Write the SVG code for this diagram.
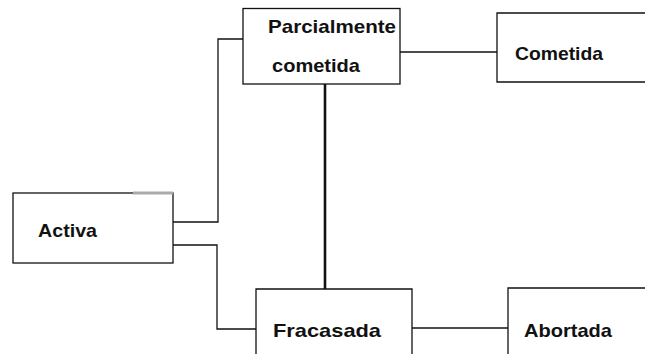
<svg xmlns="http://www.w3.org/2000/svg" width="645" height="354" viewBox="0 0 645 354">
<style>
.box{fill:none;stroke:#111;stroke-width:1.3}
.ln{fill:none;stroke:#111;stroke-width:1.3}
.thick{fill:none;stroke:#111;stroke-width:2.6}
.t{font-family:"Liberation Sans",Arial,sans-serif;font-weight:bold;font-size:19px;fill:#111}
</style>
<rect width="645" height="354" fill="#fff"/>
<g id="connectors">
<polyline class="ln" points="243,39 218,39 218,222 173,222"/>
<polyline class="ln" points="173,245 217,245 217,329 256,329"/>
<line class="ln" x1="400" y1="52" x2="497" y2="52"/>
<line class="ln" x1="412" y1="328" x2="508" y2="328"/>
<line class="thick" x1="325" y1="84" x2="325" y2="289"/>
</g>
<g id="parcialmente">
<rect class="box" x="243" y="8.5" width="157" height="75.5"/>
<text class="t" x="268" y="33" textLength="128" lengthAdjust="spacingAndGlyphs">Parcialmente</text>
<text class="t" x="272" y="72" textLength="88" lengthAdjust="spacingAndGlyphs">cometida</text>
</g>
<g id="cometida">
<path class="box" d="M646,13 H497 V82 H646"/>
<text class="t" x="515" y="60" textLength="88" lengthAdjust="spacingAndGlyphs">Cometida</text>
</g>
<g id="activa">
<rect class="box" x="13" y="193" width="160" height="70"/>
<line x1="133" y1="193" x2="173" y2="193" stroke="#aaa" stroke-width="3"/>
<text class="t" x="38" y="237" textLength="59" lengthAdjust="spacingAndGlyphs">Activa</text>
</g>
<g id="fracasada">
<path class="box" d="M256,355 V289 H412 V355"/>
<text class="t" x="273" y="337" textLength="108" lengthAdjust="spacingAndGlyphs">Fracasada</text>
</g>
<g id="abortada">
<path class="box" d="M508,355 V288 H646"/>
<text class="t" x="524" y="337" textLength="88" lengthAdjust="spacingAndGlyphs">Abortada</text>
</g>
</svg>
